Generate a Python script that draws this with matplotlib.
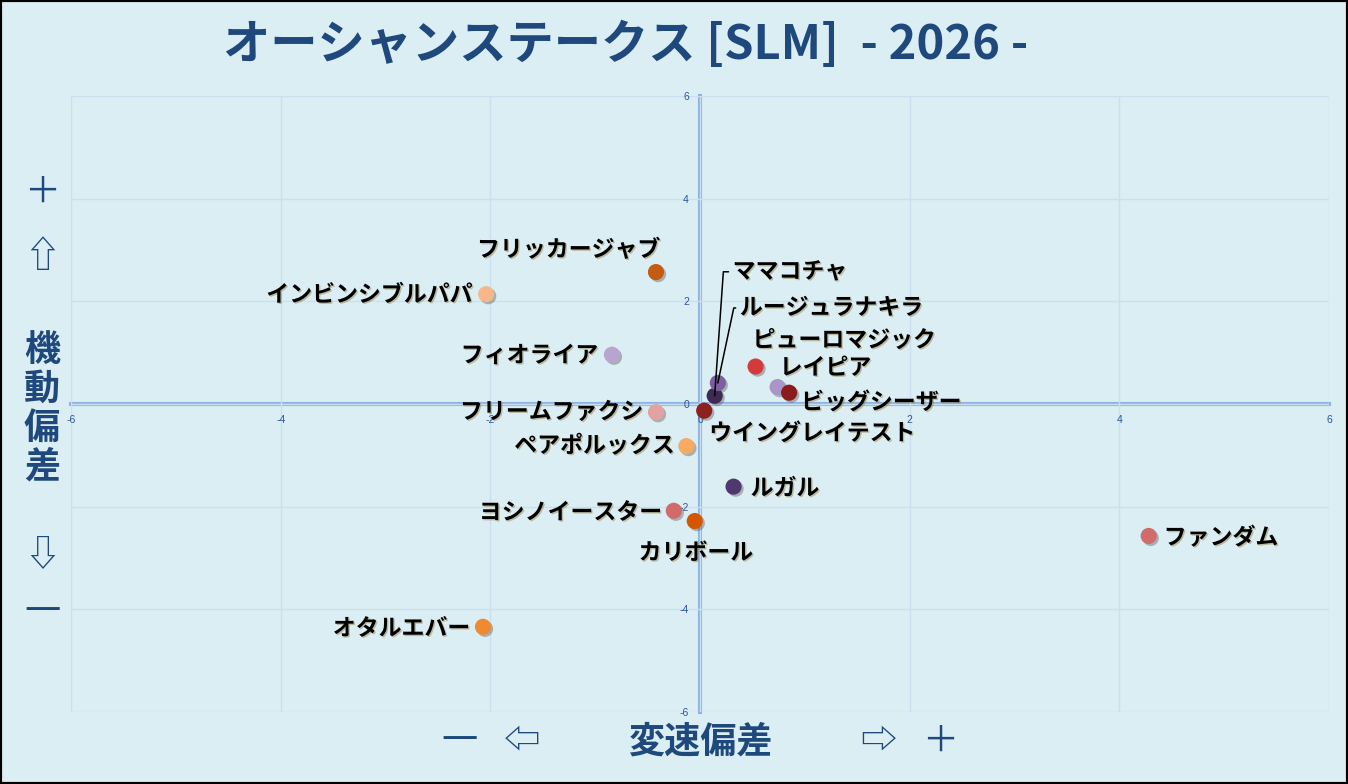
import matplotlib
matplotlib.use("Agg")
import matplotlib.pyplot as plt
import matplotlib.patheffects as pe
from matplotlib.patches import Rectangle
import numpy as np

plt.rcParams['font.family'] = ['Noto Sans CJK JP', 'DejaVu Sans']
plt.rcParams['axes.unicode_minus'] = False

# data
names = ['フリッカージャブ', 'インビンシブルパパ', 'フィオライア', 'ママコチャ', 'ルージュラナキラ',
         'ピューロマジック', 'レイピア', 'ビッグシーザー', 'ウイングレイテスト', 'フリームファクシ',
         'ペアポルックス', 'ルガル', 'ヨシノイースター', 'カリボール', 'ファンダム', 'オタルエバー']
speed_dev = [-0.42, -2.04, -0.84, 0.14, 0.17, 0.53, 0.74, 0.85, 0.04, -0.42,
             -0.13, 0.32, -0.25, -0.05, 4.28, -2.07]
mobility_dev = [2.57, 2.14, 0.96, 0.16, 0.41, 0.73, 0.33, 0.22, -0.13, -0.16,
                -0.82, -1.61, -2.08, -2.28, -2.57, -4.34]
dot_colors = ['#C55A11', '#F6B888', '#B7A5CF', '#3E2A55', '#7E5E9E',
              '#D33B3B', '#A995C8', '#8A1C1C', '#8E2020', '#E3A2A2',
              '#F8A962', '#4F3870', '#D26A6A', '#D55600', '#D26B6B', '#F08A30']
ticks = [-6, -4, -2, 0, 2, 4, 6]

# label placement (pixel offsets, y up), alignment, leader line angle
label_pos = [(4, 22, 'right'), (-14, -1, 'right'), (-14, -1, 'right'), (18, 124, 'left'),
             (22, 75, 'left'), (-3, 26, 'left'), (2, 19, 'left'), (12, -10, 'left'),
             (5, -23, 'left'), (-13, 0, 'right'), (-12, 0, 'right'), (17, -2, 'left'),
             (-12, -2, 'right'), (1, -32, 'center'), (15, -2, 'left'), (-13, -2, 'right')]
leader = {3: 86, 4: 78}

bg = '#DBEEF4'
navy = '#1F497D'
axis_blue = '#8DB4E2'

fig = plt.figure(figsize=(13.48, 7.84), dpi=100)
fig.patch.set_facecolor(bg)
ax = fig.add_axes([71 / 1348, 1 - 712 / 784, 1258 / 1348, 616 / 784])
ax.set_facecolor(bg)

ax.set_xlim(-6, 6)
ax.set_ylim(-6, 6)
ax.set_xticks(ticks)
ax.set_yticks(ticks)
ax.grid(True, color='#CADFEF', lw=1)
for g in ax.get_xgridlines() + ax.get_ygridlines():
    g.set_clip_on(False)

for s in ['top', 'right']:
    ax.spines[s].set_visible(False)
for s in ['left', 'bottom']:
    ax.spines[s].set_position(('data', 0))
    ax.spines[s].set_color(axis_blue)
    ax.spines[s].set_linewidth(3)
    ax.spines[s].set_zorder(1.5)
ax.tick_params(length=0, labelsize=7.5, labelcolor='#2F5597')
ax.tick_params(axis='x', pad=8)
ax.tick_params(axis='y', pad=8)
for t in ax.get_xticklabels() + ax.get_yticklabels():
    t.set_fontfamily('Liberation Sans')

shadow = [pe.SimplePatchShadow(offset=(1.5, -1.5), shadow_rgbFace='#555555', alpha=0.4), pe.Normal()]
ax.scatter(speed_dev, mobility_dev, s=135, c=dot_colors, zorder=3, linewidths=0,
           path_effects=shadow)

txt_fx = [pe.withSimplePatchShadow(offset=(1, -1), shadow_rgbFace='#8a6d2a', alpha=0.4)]
k = 72 / 100
for i, name in enumerate(names):
    dx, dy, ha = label_pos[i]
    props = None
    if i in leader:
        props = dict(arrowstyle='-', color='black', lw=1.1, shrinkA=1, shrinkB=0,
                     relpos=(0, 0.5),
                     connectionstyle='angle,angleA=0,angleB=%d,rad=0' % leader[i])
    ax.annotate(name, (speed_dev[i], mobility_dev[i]), xytext=(dx * k, dy * k),
                textcoords='offset points', ha=ha, va='center', fontsize=16.5,
                fontweight='bold', color='black', path_effects=txt_fx,
                arrowprops=props, zorder=4)

# title
fig.text(626 / 1348, 1 - 45 / 784, 'オーシャンステークス [SLM]  - 2026 -', ha='center', va='center',
         fontsize=34, fontweight='bold', color=navy)

# y axis label
ylab = [('＋', 193, 'normal'), ('⇧', 257, 'normal'), ('機', 350, 'bold'), ('動', 389, 'bold'),
        ('偏', 428, 'bold'), ('差', 467, 'bold'), ('⇩', 555, 'normal'), ('一', 613, 'normal')]
for ch, yy, w in ylab:
    fig.text(42 / 1348, 1 - yy / 784, ch, ha='center', va='center', fontsize=26,
             fontweight=w, color=navy)

# x axis label
xlab = [('一', 459, 'normal'), ('⇦', 522, 'normal'), ('変速偏差', 700, 'bold'),
        ('⇨', 878, 'normal'), ('＋', 940, 'normal')]
for ch, xx, w in xlab:
    fig.text(xx / 1348, 1 - 742 / 784, ch, ha='center', va='center', fontsize=26,
             fontweight=w, color=navy)

fig.add_artist(Rectangle((0, 0), 1, 1, transform=fig.transFigure, fill=False,
                         edgecolor='black', lw=3))

fig.savefig('out.png', dpi=100, facecolor=bg)
